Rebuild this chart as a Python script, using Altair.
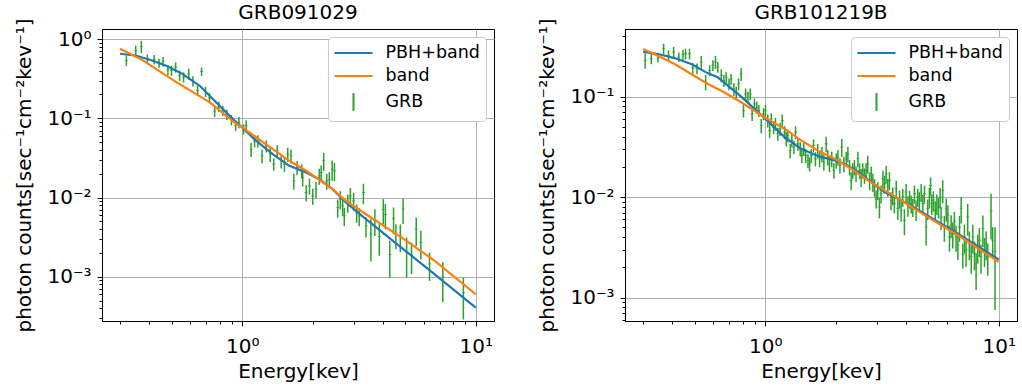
import altair as alt
import numpy as np
import pandas as pd

FONT = "DejaVu Sans"
BLUE, ORANGE, GREEN = "#1f77b4", "#ff7f0e", "#2ca02c"

# ---------------- GRB091029 (left) : values stored as log10 ----------------
left_log_energy = [
    -0.496, -0.456, -0.432, -0.406, -0.377, -0.356, -0.339, -0.318, -0.303, -0.285,
    -0.268, -0.251, -0.229, -0.211, -0.191, -0.174, -0.157, -0.140, -0.118, -0.100,
    -0.083, -0.066, -0.046, -0.028, -0.014, 0.006, 0.017, 0.038, 0.053, 0.067,
    0.085, 0.103, 0.120, 0.135, 0.150, 0.167, 0.181, 0.195, 0.209, 0.221,
    0.235, 0.255, 0.259, 0.274, 0.288, 0.302, 0.316, 0.330, 0.338, 0.349,
    0.362, 0.373, 0.385, 0.395, 0.409, 0.420, 0.430, 0.437, 0.452, 0.463,
    0.477, 0.490, 0.501, 0.519, 0.530, 0.551, 0.568, 0.587, 0.604, 0.613,
    0.632, 0.648, 0.658, 0.677, 0.689, 0.704, 0.725, 0.745, 0.765, 0.802,
    0.859, 0.947]
left_log_flux = [
    -0.269, -0.143, -0.093, -0.248, -0.257, -0.303, -0.282, -0.387, -0.396, -0.354,
    -0.459, -0.480, -0.438, -0.530, -0.648, -0.408, -0.661, -0.741, -0.909, -0.850,
    -0.901, -0.951, -1.019, -1.090, -1.048, -1.136, -1.094, -1.389, -1.284, -1.284,
    -1.473, -1.347, -1.452, -1.578, -1.410, -1.536, -1.578, -1.452, -1.473, -1.789,
    -1.620, -1.662, -1.747, -1.936, -1.852, -1.978, -1.894, -1.726, -1.684, -1.536,
    -1.789, -1.768, -1.641, -1.662, -2.125, -2.020, -2.104, -2.231, -2.062, -1.978,
    -2.041, -2.189, -2.231, -1.936, -2.357, -2.460, -2.283, -2.491, -2.150, -2.213,
    -2.719, -2.261, -2.466, -2.480, -2.144, -2.687, -2.722, -2.395, -2.563, -2.837,
    -3.000, -3.200]
left_err_dex = [
    0.06, 0.06, 0.07, 0.055, 0.055, 0.055, 0.055, 0.06, 0.06, 0.06,
    0.06, 0.06, 0.065, 0.06, 0.06, 0.05, 0.06, 0.06, 0.065, 0.06,
    0.06, 0.06, 0.06, 0.06, 0.065, 0.06, 0.07, 0.08, 0.07, 0.07,
    0.08, 0.07, 0.08, 0.07, 0.07, 0.08, 0.08, 0.08, 0.08, 0.09,
    0.08, 0.08, 0.09, 0.09, 0.09, 0.09, 0.09, 0.09, 0.09, 0.10,
    0.09, 0.09, 0.11, 0.10, 0.10, 0.10, 0.10, 0.10, 0.10, 0.10,
    0.10, 0.10, 0.10, 0.11, 0.11, 0.19, 0.137, 0.155, 0.13, 0.13,
    0.173, 0.136, 0.13, 0.14, 0.132, 0.183, 0.155, 0.143, 0.143, 0.143,
    0.183, 0.188]
left_pbh_log_energy = [-0.523, -0.453, -0.396, -0.325, -0.254, -0.182, -0.111, -0.040, 0.0, 0.060,
                       0.131, 0.202, 0.274, 0.330, 0.387, 0.444, 0.530, 0.672, 0.815, 1.0]
left_pbh_log_flux = [-0.185, -0.210, -0.261, -0.337, -0.442, -0.589, -0.800, -1.010, -1.115, -1.284,
                     -1.452, -1.599, -1.684, -1.768, -1.894, -2.062, -2.273, -2.609, -2.946, -3.388]
left_band_log_energy = [-0.523, -0.425, -0.282, -0.140, -0.026, 0.0, 0.060, 0.131, 0.202, 0.274,
                        0.387, 0.444, 0.530, 0.672, 0.815, 1.0]
left_band_log_flux = [-0.122, -0.269, -0.543, -0.795, -1.069, -1.115, -1.242, -1.389, -1.536, -1.662,
                      -1.894, -2.041, -2.210, -2.483, -2.778, -3.220]

# ---------------- GRB101219B (right) ----------------
right_log_energy = [
    -0.514, -0.488, -0.459, -0.435, -0.414, -0.392, -0.370, -0.352, -0.341, -0.324,
    -0.310, -0.292, -0.274, -0.255, -0.238, -0.224, -0.213, -0.203, -0.188,
    -0.177, -0.167, -0.155, -0.146, -0.134, -0.124, -0.114, -0.103, -0.093, -0.084,
    -0.074, -0.064, -0.056, -0.046, -0.036, -0.027, -0.017, -0.007, 0.001, 0.011,
    0.019, 0.026, 0.036, 0.044, 0.054, 0.064, 0.073, 0.083, 0.090, 0.097,
    0.107, 0.114, 0.123, 0.130, 0.140, 0.150, 0.157, 0.165, 0.173, 0.183,
    0.190, 0.197, 0.207, 0.215, 0.225,
    0.233, 0.243, 0.251, 0.261, 0.268, 0.275, 0.285, 0.294, 0.304, 0.311,
    0.320, 0.328, 0.337, 0.347, 0.354, 0.361, 0.368, 0.375, 0.382, 0.389,
    0.397, 0.404, 0.411, 0.418, 0.425, 0.432, 0.439, 0.447, 0.454, 0.461,
    0.468, 0.475, 0.482, 0.489, 0.496, 0.504, 0.511, 0.518, 0.525, 0.532,
    0.539, 0.546, 0.553, 0.561, 0.568, 0.575, 0.582, 0.589, 0.596, 0.603, 0.611,
    0.618, 0.625, 0.632, 0.639, 0.646, 0.653, 0.660, 0.668, 0.675, 0.682,
    0.689, 0.696, 0.703, 0.708, 0.713, 0.720, 0.728, 0.735, 0.742, 0.749,
    0.753, 0.760, 0.767, 0.775, 0.782, 0.789, 0.796, 0.803, 0.810, 0.817,
    0.825, 0.832, 0.839, 0.846, 0.853, 0.860, 0.867, 0.874, 0.882, 0.889,
    0.896, 0.903, 0.910, 0.917, 0.924, 0.932, 0.939, 0.946, 0.953, 0.967,
    0.974, 0.984]
right_log_flux = [
    -0.640, -0.623, -0.617, -0.524, -0.590, -0.557, -0.607, -0.583, -0.574, -0.574,
    -0.716, -0.722, -0.656, -0.855, -0.739, -0.689, -0.656, -0.706, -0.788,
    -0.841, -0.808, -0.874, -0.825, -0.924, -0.957, -0.874, -0.775, -1.139, -0.974,
    -1.007, -0.974, -1.172, -1.073, -1.106, -1.139, -1.288, -1.172, -1.139, -1.238,
    -1.337, -1.221, -1.304, -1.271, -1.370, -1.321, -1.238, -1.354, -1.420, -1.387,
    -1.536, -1.436, -1.502, -1.354, -1.469, -1.519, -1.585, -1.519, -1.585, -1.635,
    -1.668, -1.585, -1.486, -1.618, -1.536,
    -1.618, -1.569, -1.651, -1.469, -1.602, -1.668, -1.618, -1.734, -1.635, -1.602,
    -1.684, -1.502, -1.668, -1.618, -1.569, -1.701, -1.833, -1.734, -1.701, -1.767,
    -1.618, -1.734, -1.800, -1.734, -1.784, -1.734, -1.668, -1.833, -1.767, -1.850,
    -1.899, -2.015, -1.932, -2.098, -1.965, -1.817, -1.866, -1.767, -1.899, -1.833,
    -2.031, -1.982, -2.064, -1.916, -2.114, -2.015, -2.131, -1.998, -2.230, -1.949, -2.081,
    -2.017, -2.064, -2.098, -1.965, -2.124, -1.998, -2.031, -1.949, -2.064, -1.965,
    -2.296, -2.114, -1.998, -1.883, -2.064, -2.031, -2.131, -2.064, -2.098, -1.998,
    -2.197, -1.932, -2.296, -2.114, -2.180, -2.395, -2.279, -2.362, -2.246, -2.395,
    -2.478, -2.296, -2.110, -2.568, -2.395, -2.527, -2.197, -2.461, -2.594, -2.395,
    -2.561, -2.705, -2.494, -2.428, -2.594, -2.312, -2.527, -2.461, -2.594, -2.137,
    -2.428, -2.540]
right_err_dex = [
    0.07, 0.05, 0.04, 0.05, 0.05, 0.05, 0.045, 0.05, 0.05, 0.05,
    0.05, 0.05, 0.06, 0.07, 0.05, 0.05, 0.06, 0.05, 0.06,
    0.055, 0.05, 0.055, 0.05, 0.06, 0.055, 0.055, 0.06, 0.06, 0.055,
    0.055, 0.055, 0.06, 0.055, 0.055, 0.055, 0.065, 0.055, 0.055, 0.06,
    0.065, 0.055, 0.06, 0.06, 0.06, 0.06, 0.06, 0.06, 0.065, 0.06,
    0.065, 0.06, 0.06, 0.06, 0.06, 0.065, 0.065, 0.06, 0.065, 0.065,
    0.065, 0.065, 0.06, 0.065, 0.065,
    0.07, 0.07, 0.07, 0.07, 0.07, 0.07, 0.07, 0.07, 0.07, 0.07,
    0.07, 0.08, 0.07, 0.07, 0.07, 0.07, 0.08, 0.07, 0.07, 0.07,
    0.07, 0.07, 0.08, 0.07, 0.07, 0.07, 0.08, 0.08, 0.07, 0.08,
    0.08, 0.08, 0.08, 0.09, 0.08, 0.08, 0.08, 0.08, 0.08, 0.08,
    0.08, 0.08, 0.08, 0.08, 0.09, 0.08, 0.09, 0.08, 0.11, 0.08, 0.09,
    0.08, 0.08, 0.08, 0.08, 0.09, 0.08, 0.08, 0.08, 0.09, 0.08,
    0.13, 0.09, 0.09, 0.08, 0.09, 0.09, 0.09, 0.09, 0.09, 0.09,
    0.10, 0.10, 0.11, 0.10, 0.10, 0.11, 0.10, 0.11, 0.10, 0.11,
    0.11, 0.11, 0.112, 0.107, 0.12, 0.12, 0.13, 0.12, 0.12, 0.12,
    0.12, 0.144, 0.12, 0.12, 0.12, 0.13, 0.12, 0.12, 0.13, 0.17,
    0.13, 0.24]
right_pbh_log_energy = [-0.523, -0.459, -0.388, -0.317, -0.245, -0.203, -0.103, -0.003, 0.083, 0.154,
                        0.225, 0.297, 0.340, 0.397, 0.454, 0.511, 0.582, 0.653, 0.825, 1.0]
right_pbh_log_flux = [-0.554, -0.577, -0.617, -0.676, -0.769, -0.808, -1.000, -1.212, -1.403, -1.519,
                      -1.590, -1.635, -1.668, -1.750, -1.850, -1.949, -2.030, -2.124, -2.362, -2.620]
right_band_log_energy = [-0.523, -0.459, -0.388, -0.317, -0.245, -0.174, -0.103, -0.003, 0.083, 0.154,
                         0.225, 0.297, 0.368, 0.439, 0.511, 0.582, 0.653, 0.825, 1.0]
right_band_log_flux = [-0.527, -0.593, -0.676, -0.775, -0.874, -0.960, -1.056, -1.205, -1.321, -1.436,
                       -1.536, -1.618, -1.717, -1.833, -1.932, -2.031, -2.137, -2.379, -2.643]

# axis tick values
x_ticks = [0.3, 0.4, 0.5, 0.6, 0.7, 0.8, 0.9, 1, 2, 3, 4, 5, 6, 7, 8, 9, 10]
left_y_ticks = [3e-4, 4e-4, 5e-4, 6e-4, 7e-4, 8e-4, 9e-4, 1e-3, 2e-3, 3e-3, 4e-3, 5e-3, 6e-3,
                7e-3, 8e-3, 9e-3, 1e-2, 2e-2, 3e-2, 4e-2, 5e-2, 6e-2, 7e-2, 8e-2, 9e-2, 0.1,
                0.2, 0.3, 0.4, 0.5, 0.6, 0.7, 0.8, 0.9, 1]
right_y_ticks = [6e-4, 7e-4, 8e-4, 9e-4, 1e-3, 2e-3, 3e-3, 4e-3, 5e-3, 6e-3, 7e-3, 8e-3, 9e-3,
                 1e-2, 2e-2, 3e-2, 4e-2, 5e-2, 6e-2, 7e-2, 8e-2, 9e-2, 0.1, 0.2, 0.3, 0.4]
x_domain = [0.251, 11.97]
left_y_domain = [2.77e-4, 1.34]
right_y_domain = [5.87e-4, 0.47]
series_names = ["PBH+band", "band", "GRB"]
legend_symbols = ["M-1,0L3,0", "M-1,0L3,0", "M1,-0.94L1,0.94"]


def grb_frame(le, lf, de):
    rows = []
    for a, b, c in zip(le, lf, de):
        y = 10 ** b
        err = 10 ** (b + c) - y
        rows.append({"energy": 10 ** a, "flux": y, "lo": y - err, "hi": y + err})
    return pd.DataFrame(rows)


def curve_frame(le, lf, name):
    return pd.DataFrame({"energy": [10 ** v for v in le], "flux": [10 ** v for v in lf],
                         "series": name})


MAJ = "abs(log(datum.value)/LN10 - round(log(datum.value)/LN10)) < 0.001"
EXP = "round(log(datum.value)/LN10)"
SUP = {1: "¹", 0: "⁰", -1: "⁻¹", -2: "⁻²", -3: "⁻³", -4: "⁻⁴"}
LABEL_EXPR = MAJ + " ? (" + " : ".join(f"{EXP} == {k} ? '10{v}'" for k, v in SUP.items()) + " : '') : ''"


def make_axis(values, title, label_pad, title_pad):
    return alt.Axis(
        values=values, title=title, labelExpr=LABEL_EXPR,
        grid=True, gridColor="#b0b0b0", gridWidth=1,
        gridOpacity={"condition": {"test": MAJ, "value": 1}, "value": 0},
        tickSize={"condition": {"test": MAJ, "value": 5}, "value": 3},
        tickColor="black", tickWidth=1, domainColor="black", domainWidth=1,
        labelFont=FONT, labelFontSize=20, labelColor="black", labelPadding=label_pad,
        titleFont=FONT, titleFontSize=20, titleColor="black", titleFontWeight="normal",
        titlePadding=title_pad, labelOverlap=False, labelFlush=False, labelBound=False,
    )


def panel(title, grb, pbh, band, ydom, yticks):
    xs = alt.Scale(type="log", domain=x_domain, nice=False)
    ys = alt.Scale(type="log", domain=ydom, nice=False)
    xa = make_axis(x_ticks, "Energy[kev]", 10, 5)
    ya = make_axis(yticks, "photon counts[sec⁻¹cm⁻²kev⁻¹]", 6, 12)
    X = alt.X("energy:Q", scale=xs, axis=xa)

    bars = alt.Chart(grb).mark_rule(color=GREEN, strokeWidth=1.5, clip=True).encode(
        x=X, y=alt.Y("lo:Q", scale=ys, axis=ya), y2="hi:Q")
    centers = alt.Chart(grb).mark_tick(color=GREEN, size=3, thickness=1, orient="horizontal",
                                       clip=True, opacity=0.8).encode(
        x=X, y=alt.Y("flux:Q", scale=ys, axis=ya))
    blue = alt.Chart(pbh).mark_line(color=BLUE, strokeWidth=2.2, clip=True).encode(
        x=X, y=alt.Y("flux:Q", scale=ys, axis=ya))
    orange = alt.Chart(band).mark_line(color=ORANGE, strokeWidth=2.2, clip=True).encode(
        x=X, y=alt.Y("flux:Q", scale=ys, axis=ya))

    legend = alt.Legend(
        title=None, orient="top-right", offset=8, padding=5.5, fillColor="white",
        strokeColor="#cccccc", cornerRadius=4, labelFont=FONT, labelFontSize=17.5,
        labelColor="black", symbolSize=361, symbolStrokeWidth=2, symbolOpacity=1,
        labelOffset=31, rowPadding=4)
    leg_df = pd.concat([pbh.head(2), band.head(2),
                        pd.DataFrame({"energy": [1.0, 1.0], "flux": [0.01, 0.01], "series": "GRB"})])
    dummy = alt.Chart(leg_df).mark_point(filled=False, opacity=0).encode(
        x=X, y=alt.Y("flux:Q", scale=ys, axis=ya),
        color=alt.Color("series:N", scale=alt.Scale(domain=series_names, range=[BLUE, ORANGE, GREEN]),
                        legend=legend),
        shape=alt.Shape("series:N", scale=alt.Scale(domain=series_names, range=legend_symbols),
                        legend=legend))
    return alt.layer(bars, centers, blue, orange, dummy).properties(
        width=392, height=292,
        title=alt.TitleParams(title, font=FONT, fontSize=20, fontWeight="normal", color="black",
                              frame="group", anchor="middle", offset=-5))


left = panel("GRB091029", grb_frame(left_log_energy, left_log_flux, left_err_dex),
             curve_frame(left_pbh_log_energy, left_pbh_log_flux, "PBH+band"),
             curve_frame(left_band_log_energy, left_band_log_flux, "band"),
             left_y_domain, left_y_ticks)
right = panel("GRB101219B", grb_frame(right_log_energy, right_log_flux, right_err_dex),
              curve_frame(right_pbh_log_energy, right_pbh_log_flux, "PBH+band"),
              curve_frame(right_band_log_energy, right_band_log_flux, "band"),
              right_y_domain, right_y_ticks)

chart = alt.hconcat(left, right, spacing=42).resolve_scale(
    x="independent", y="independent", color="independent", shape="independent"
).resolve_legend(color="independent", shape="independent").properties(
    padding={"left": 14, "top": 2, "right": 2, "bottom": 2}, background="white"
).configure_view(stroke="black", strokeWidth=1)

chart.save("out.html", embed_options={"renderer": "svg", "actions": False})
